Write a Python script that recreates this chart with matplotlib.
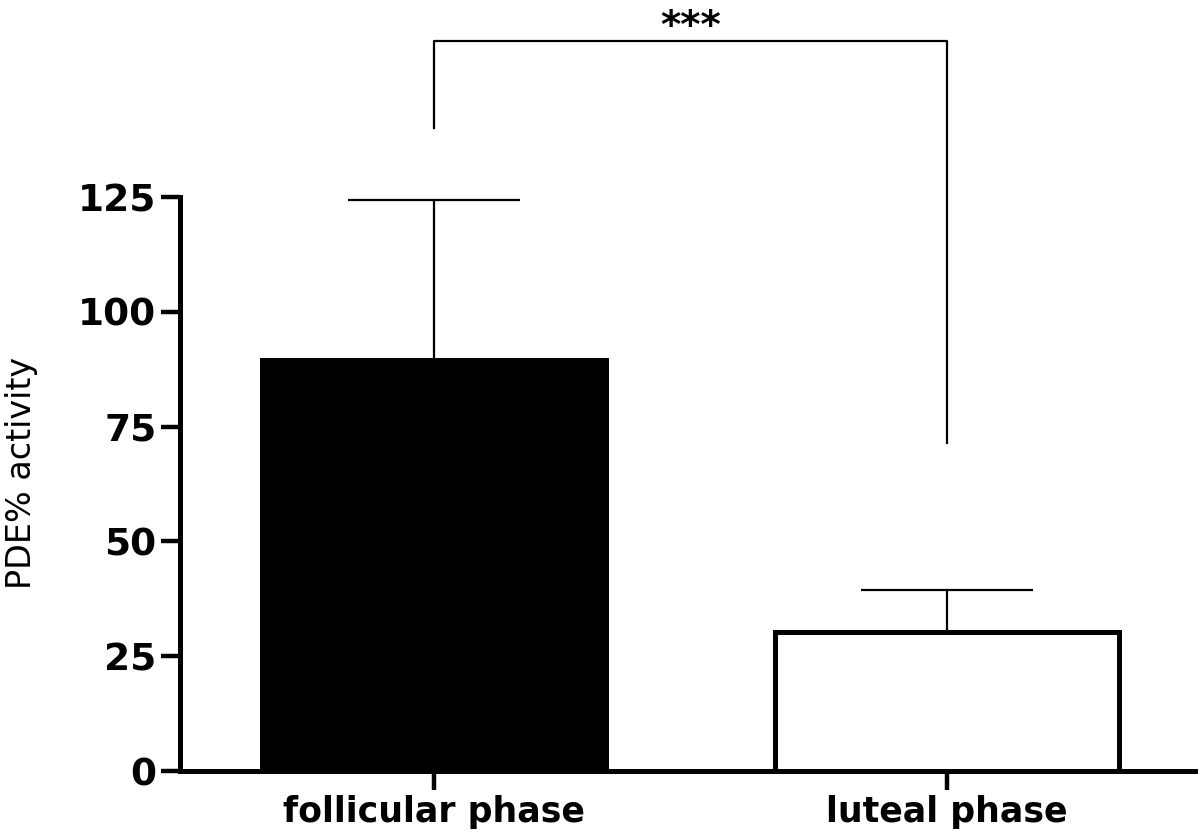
import numpy as np
import matplotlib.pyplot as plt

phases = ["follicular phase", "luteal phase"]
means = [89.5, 30.2]
errors = [34.9, 9.2]
bar_colors = ["black", "white"]
y_ticks = [0, 25, 50, 75, 100, 125]

# significance bracket heights (data units)
bracket_top = 159.0
bracket_left_end = 140.0
bracket_right_end = 71.5
sig_label = "***"

fig = plt.figure(figsize=(12, 8.39), dpi=100)
ax = fig.add_axes([0.15, 0.081, 0.846, 0.684])

x = np.arange(len(phases))
ax.bar(x, means, width=0.67, color=bar_colors, edgecolor="black",
       linewidth=3.6, zorder=2)
ax.errorbar(x, means, yerr=[np.zeros(len(errors)), errors], fmt="none",
            ecolor="black", elinewidth=1.6, capsize=62, capthick=1.6, zorder=1)

ax.set_xlim(-0.494, 1.483)
ax.set_ylim(0, 125)
ax.set_yticks(y_ticks)
ax.set_xticks(x)
ax.set_xticklabels(phases, fontweight="bold", fontsize=25)
for lab in ax.get_yticklabels():
    lab.set_fontweight("bold")
    lab.set_fontsize(27)

for side in ["top", "right"]:
    ax.spines[side].set_visible(False)
for side in ["left", "bottom"]:
    ax.spines[side].set_linewidth(3.6)
ax.tick_params(axis="both", direction="out", length=14, width=3.2, pad=3)

ax.set_ylabel("PDE% activity", fontsize=24)
ax.yaxis.set_label_coords(-0.14, 0.52)

# bracket
ax.plot([x[0], x[0], x[1], x[1]],
        [bracket_left_end, bracket_top, bracket_top, bracket_right_end],
        color="black", linewidth=1.6, clip_on=False)
ax.text((x[0] + x[1]) / 2, bracket_top + 0.6, sig_label, ha="center",
        va="baseline", fontsize=28, fontweight="bold")

fig.savefig("out.png", dpi=100)
